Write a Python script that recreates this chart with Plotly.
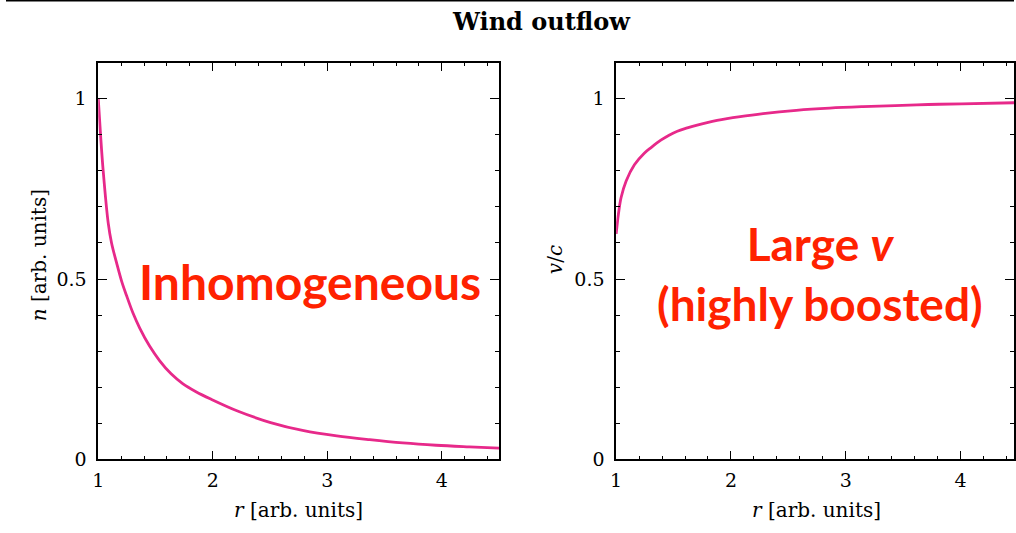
import plotly.graph_objects as go

# ---- data ----
r_density = [1.0, 1.02, 1.043, 1.087, 1.116, 1.159, 1.203, 1.246, 1.304, 1.362,
             1.448, 1.535, 1.636, 1.737, 1.853, 1.983, 2.216, 2.505, 2.794,
             3.083, 3.37, 3.66, 3.95, 4.24, 4.5]
n_density = [1.0, 0.90, 0.80, 0.655, 0.60, 0.546, 0.495, 0.455, 0.405, 0.364,
             0.314, 0.274, 0.237, 0.21, 0.1875, 0.167, 0.134, 0.102, 0.0795,
             0.065, 0.0545, 0.0455, 0.039, 0.0345, 0.031]

r_velocity = [1.0, 1.02, 1.043, 1.087, 1.159, 1.245, 1.302, 1.389, 1.461, 1.533,
              1.62, 1.706, 1.793, 1.879, 1.966, 2.066, 2.28, 2.57, 2.86, 3.15,
              3.43, 3.72, 4.01, 4.5]
v_velocity = [0.625, 0.681, 0.726, 0.772, 0.817, 0.849, 0.864, 0.885, 0.899, 0.91,
              0.919, 0.927, 0.934, 0.940, 0.945, 0.950, 0.959, 0.968, 0.974, 0.978,
              0.981, 0.984, 0.986, 0.989]

x_ticks = [1, 2, 3, 4]
y_ticks = [0, 0.5, 1]
y_ticktext = ["0", "0.5", "1"]

title_text = "Wind outflow"
x_title = "<i>r</i> [arb. units]"
y1_title = "<i>n</i> [arb. units]"
y2_title = "<i>v</i>/<i>c</i>"
note_left = "Inhomogeneous"
note_right_1 = "Large <i>v</i>"
note_right_2 = "(highly boosted)"

W, H = 1016, 533
LINE = "#e7298a"
RED = "#ff2200"
SERIF = "DejaVu Serif"

fig = go.Figure()
fig.add_trace(go.Scatter(x=r_density, y=n_density, mode="lines",
                         line=dict(color=LINE, width=2.8, shape="spline", smoothing=1.0),
                         xaxis="x", yaxis="y", showlegend=False))
fig.add_trace(go.Scatter(x=r_velocity, y=v_velocity, mode="lines",
                         line=dict(color=LINE, width=2.8, shape="spline", smoothing=1.0),
                         xaxis="x2", yaxis="y2", showlegend=False))

def xax(dom, rng, anchor):
    return dict(domain=dom, range=rng, anchor=anchor, tickvals=x_ticks,
                ticks="inside", ticklen=9, tickwidth=1.1, tickcolor="black",
                showline=True, linecolor="black", linewidth=1.6, mirror="ticks",
                showgrid=False, zeroline=False, ticklabelstandoff=3,
                tickfont=dict(family=SERIF, size=19, color="black"),
                minor=dict(tick0=1, dtick=0.2, ticks="inside", ticklen=4,
                           tickwidth=1, tickcolor="black", showgrid=False))

def yax(dom, anchor):
    return dict(domain=dom, range=[0, 1.1], anchor=anchor, tickvals=y_ticks,
                ticktext=y_ticktext,
                ticks="inside", ticklen=9, tickwidth=1.1, tickcolor="black",
                showline=True, linecolor="black", linewidth=1.6, mirror="ticks",
                showgrid=False, zeroline=False, ticklabelstandoff=6,
                tickfont=dict(family=SERIF, size=19, color="black"),
                minor=dict(tick0=0, dtick=0.1, ticks="inside", ticklen=4,
                           tickwidth=1, tickcolor="black", showgrid=False))

ydom = [(H - 469) / H, (H - 64) / H]
fig.update_layout(
    width=W, height=H,
    margin=dict(l=0, r=0, t=0, b=0),
    paper_bgcolor="white", plot_bgcolor="white",
    xaxis=xax([93 / W, 497 / W], [1, 4.5], "y"),
    yaxis=yax(ydom, "x"),
    xaxis2=xax([615 / W, 1.0], [1, 4.466], "y2"),
    yaxis2=yax(ydom, "x2"),
)

def px(x):
    return x / W

def py(y):
    return (H - y) / H

ann = []
ann.append(dict(text="<b>" + title_text + "</b>", x=px(540), y=py(22),
                font=dict(family=SERIF, size=24, color="black")))
ann.append(dict(text=x_title, x=px(295), y=py(521),
                font=dict(family=SERIF, size=20, color="black")))
ann.append(dict(text=x_title, x=px(817), y=py(521),
                font=dict(family=SERIF, size=20, color="black")))
ann.append(dict(text=y1_title, x=px(33), y=py(261), textangle=-90,
                font=dict(family=SERIF, size=20, color="black")))
ann.append(dict(text=y2_title, x=px(553), y=py(265), textangle=-90,
                font=dict(family=SERIF, size=20, color="black")))
ann.append(dict(text="<b>" + note_left + "</b>", x=px(306), y=py(287),
                font=dict(family="Lato", size=48, color=RED)))
ann.append(dict(text="<b>" + note_right_1 + "<br>" + note_right_2 + "</b>",
                x=px(820), y=py(279), align="center",
                font=dict(family="Lato", size=46, color=RED)))
for a in ann:
    a.update(xref="paper", yref="paper", showarrow=False,
             xanchor="center", yanchor="middle")
fig.update_layout(annotations=ann)

fig.add_shape(type="line", xref="paper", yref="paper", x0=0, x1=1, y0=1, y1=1,
              line=dict(color="black", width=3))

fig.write_html("out.html", config={"displayModeBar": False},
               post_script="document.body.style.margin='0px';")
